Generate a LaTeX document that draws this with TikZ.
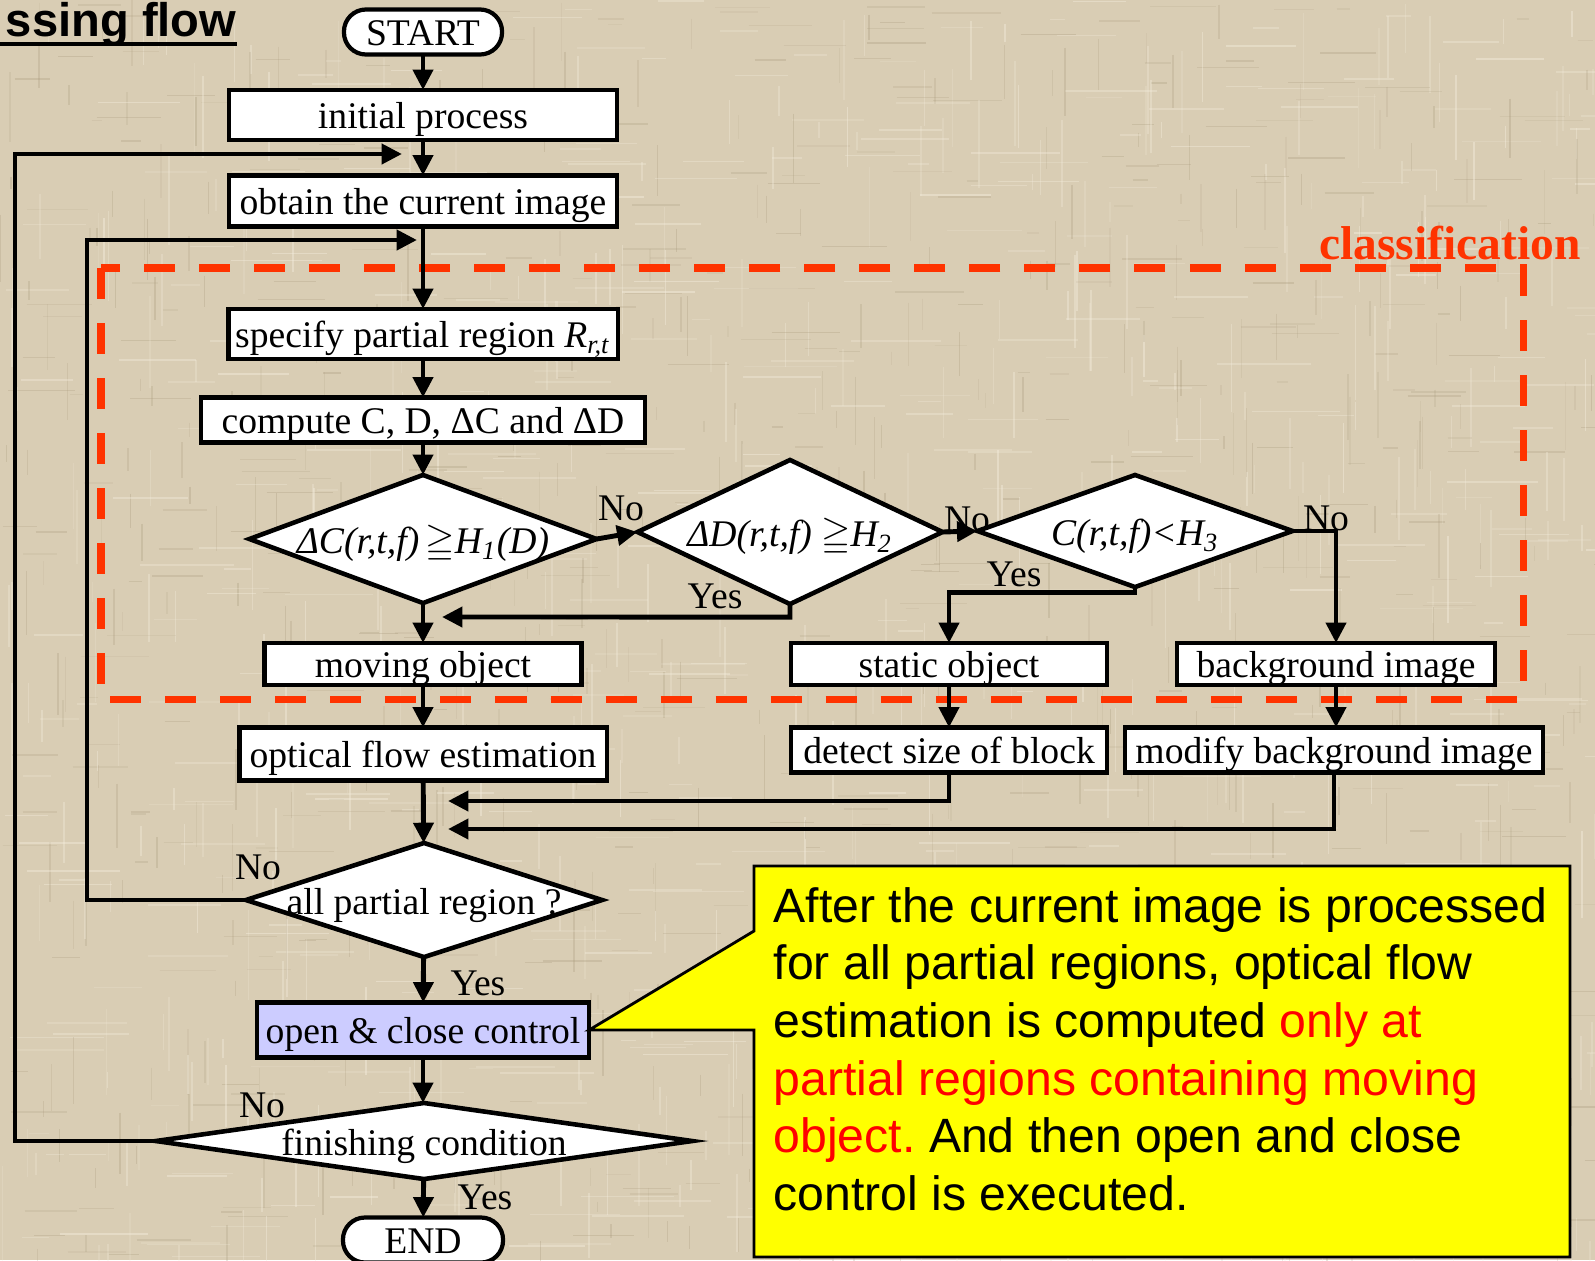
\documentclass[tikz,border=0pt]{standalone}
\usepackage{amssymb}
\usepackage{fontspec}
\setmainfont{Liberation Serif}
\newfontfamily\calloutfont{Liberation Sans}
\usetikzlibrary{shapes.geometric,arrows.meta}

\definecolor{canvas}{RGB}{217,205,180}
\definecolor{streaklight}{RGB}{245,238,222}
\definecolor{streakdark}{RGB}{165,150,120}
\definecolor{clsred}{RGB}{255,51,0}
\definecolor{notefill}{RGB}{255,255,0}
\definecolor{ctrlfill}{RGB}{204,204,255}

\newcommand\flowfont{\fontsize{10.7}{12.8}\selectfont}

\tikzset{
  procbox/.style={draw, line width=1.2pt, fill=white, inner sep=0pt, outer sep=0pt,
    font=\flowfont, text height=9.6pt, text depth=1.8pt},
  termbox/.style={procbox, rounded corners=0.22cm},
  decbox/.style={draw, diamond, line width=1.3pt, fill=white, inner sep=0pt, outer sep=0pt,
    font=\flowfont\itshape, text height=10pt, text depth=1.8pt},
  flowarrow/.style={line width=1.4pt, -{Triangle[length=5.8pt,width=5.6pt]}},
  yn/.style={font=\flowfont, inner sep=0pt},
}

\begin{document}
\begin{tikzpicture}[x=0.01cm, y=-0.01cm]
\useasboundingbox (0,0) rectangle (1595,1260);
\clip (0,0) rectangle (1595,1260);

% woven paper backdrop
\fill[canvas] (0,0) rectangle (1595,1260);
\pgfmathsetseed{42}
\foreach \k in {1,...,450}{
  \pgfmathsetmacro\px{rnd*1595}
  \pgfmathsetmacro\py{rnd*1260}
  \pgfmathsetmacro\len{15+rnd*80}
  \pgfmathsetmacro\op{0.15+0.3*rnd}
  \draw[line width=0.45pt, streaklight, opacity=\op] (\px,\py) -- ++(0,\len);
  \pgfmathsetmacro\qx{rnd*1595}
  \pgfmathsetmacro\qy{rnd*1260}
  \pgfmathsetmacro\lenb{15+rnd*80}
  \draw[line width=0.45pt, streaklight, opacity=\op] (\qx,\qy) -- ++(\lenb,0);
  \pgfmathsetmacro\rx{rnd*1595}
  \pgfmathsetmacro\ry{rnd*1260}
  \pgfmathsetmacro\lenc{10+rnd*60}
  \pgfmathsetmacro\opd{0.1+0.2*rnd}
  \draw[line width=0.4pt, streakdark, opacity=\opd] (\rx,\ry) -- ++(0,\lenc);
  \pgfmathsetmacro\sx{rnd*1595}
  \pgfmathsetmacro\sy{rnd*1260}
  \draw[line width=0.4pt, streakdark, opacity=\opd] (\sx,\sy) -- ++(\lenc,0);
}

% heading
\node[anchor=base east, inner sep=0pt, font=\calloutfont\bfseries\fontsize{13.4}{16}\selectfont] (title) at (237,36) {ssing flow};
\draw[line width=0.9pt] (0,44) -- (title.south east |- 0,44);

% classification region
\draw[clsred, line width=2pt, dash pattern=on 0.31cm off 0.24cm] (101,268) rectangle (1523,699);
\node[anchor=base, inner sep=0pt, text=clsred, font=\bfseries\fontsize{13.5}{16}\selectfont] (clslabel) at (1450,259) {classification};

% main column
\node[termbox, minimum width=1.58cm, minimum height=0.45cm] (start) at (423,32) {START};
\node[procbox, minimum width=3.88cm, minimum height=0.50cm] (init) at (423,115) {initial process};
\node[procbox, minimum width=3.88cm, minimum height=0.51cm] (obtain) at (423,201) {obtain the current image};
\node[procbox, minimum width=3.89cm, minimum height=0.50cm] (spec) at (423,334) {specify partial region \textit{R}\textsubscript{\textit{r,t}}};
\node[procbox, minimum width=4.44cm, minimum height=0.45cm] (comp) at (423,420) {compute C, D, ΔC and ΔD};

% decisions of the classification
\node[decbox, minimum width=3.47cm, minimum height=1.28cm] (d1) at (423,539)
  {\makebox[0pt]{ΔC(r,t,f)\,$\geqq$H\textsubscript{1}(D)}};
\node[decbox, minimum width=3.05cm, minimum height=1.44cm] (d2) at (790,532)
  {\makebox[0pt]{ΔD(r,t,f) $\geqq$H\textsubscript{2}}};
\node[decbox, minimum width=3.15cm, minimum height=1.12cm] (d3) at (1135,531)
  {\makebox[0pt]{C(r,t,f)<H\textsubscript{3}}};

% class results
\node[procbox, minimum width=3.17cm, minimum height=0.42cm] (mov) at (423,664) {moving object};
\node[procbox, minimum width=3.16cm, minimum height=0.42cm] (stat) at (949,664) {static object};
\node[procbox, minimum width=3.18cm, minimum height=0.42cm] (bg) at (1336,664) {background image};

% follow-up processing
\node[procbox, minimum width=3.67cm, minimum height=0.53cm] (opt) at (423,754) {optical flow estimation};
\node[procbox, minimum width=3.16cm, minimum height=0.45cm] (det) at (949,750) {detect size of block};
\node[procbox, minimum width=4.18cm, minimum height=0.45cm] (mod) at (1334,750) {modify background image};

% loop control
\node[decbox, font=\flowfont, minimum width=3.56cm, minimum height=1.14cm] (d4) at (424,900)
  {\makebox[0pt]{all partial region ?}};
\node[procbox, fill=ctrlfill, minimum width=3.32cm, minimum height=0.55cm] (occ) at (423,1030) {open \& close control};
\node[decbox, font=\flowfont, minimum width=5.36cm, minimum height=0.76cm] (d5) at (424,1141)
  {\makebox[0pt]{finishing condition}};
\node[termbox, minimum width=1.60cm, minimum height=0.45cm] (end) at (423,1240) {END};

% connector waypoints
\coordinate (loopA) at (402,154);
\coordinate (outerTop) at (15,154);
\coordinate (loopB) at (417,240);
\coordinate (innerTop) at (87,240);
\coordinate (mergeA) at (442,617);
\coordinate (mergeB) at (448,801);
\coordinate (mergeC) at (448,829);

% connectors
\draw[flowarrow] (start) -- (init);
\draw[flowarrow] (init) -- (obtain);
\draw[flowarrow] (obtain) -- (spec);
\draw[flowarrow] (spec) -- (comp);
\draw[flowarrow] (comp) -- (d1);
\draw[flowarrow] (d1.east) -- (d2.west);
\draw[flowarrow] (d2.east) -- (d3.west);
\draw[flowarrow] (d3.east) -| (bg.north);
\draw[flowarrow] (d3.south) -- ++(0,5) -| (stat.north);
\draw[flowarrow] (d2.south) -- ++(0,13) -- (mergeA);
\draw[flowarrow] (d1) -- (mov);
\draw[flowarrow] (mov) -- (opt);
\draw[flowarrow] (stat) -- (det);
\draw[flowarrow] (bg.south) -- (bg.south |- mod.north);
\draw[flowarrow] (opt) -- (d4);
\draw[flowarrow] (det.south) |- (mergeB);
\draw[flowarrow] (mod.south) |- (mergeC);
\draw[flowarrow] (d4.west) -| (innerTop) -- (loopB);
\draw[flowarrow] (d4) -- (occ);
\draw[flowarrow] (occ.south) -- (occ.south |- d5.north);
\draw[flowarrow] (d5.west) -| (outerTop) -- (loopA);
\draw[flowarrow] (d5) -- (end);

% branch labels
\node[yn] (n1) at (621,508) {No};
\node[yn] (n2) at (967,519) {No};
\node[yn] (n3) at (1326,518) {No};
\node[yn] (y3) at (1014,574) {Yes};
\node[yn] (y2) at (715,596) {Yes};
\node[yn] (n4) at (258,867) {No};
\node[yn] (y4) at (478,983) {Yes};
\node[yn] (n5) at (262,1105) {No};
\node[yn] (y5) at (485,1197) {Yes};

% explanatory callout
\coordinate (tip) at (occ.east);
\filldraw[fill=notefill, draw=black, line width=0.8pt]
  (754,866) -- (1570,866) -- (1570,1257) -- (754,1257) -- (754,1030) -- (tip) -- (754,931) -- cycle;
\node[anchor=base west, inner sep=0pt, font=\calloutfont\fontsize{13.7}{16.4}\selectfont] (note) at (773,922)
  {\parbox[t]{8.2cm}{\raggedright\frenchspacing\fontsize{13.7}{16.4}\selectfont
  After the current image is processed\\
  for all partial regions, optical flow\\
  estimation is computed \textcolor{red}{only at}\\
  \textcolor{red}{partial regions containing moving}\\
  \textcolor{red}{object.} And then open and close\\
  control is executed.}};
\end{tikzpicture}
\end{document}
